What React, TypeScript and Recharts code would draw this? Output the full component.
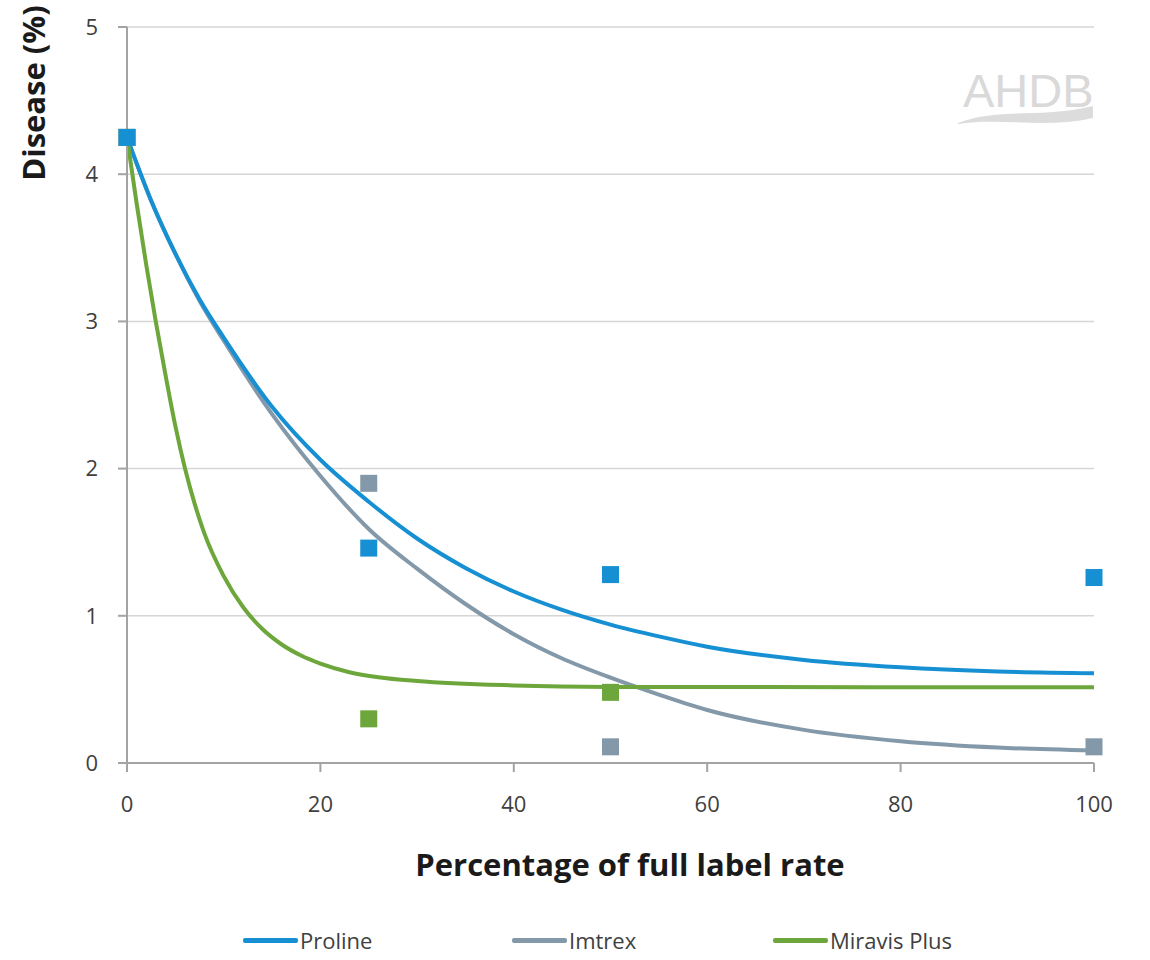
import React from "react"
import {
  ComposedChart,
  Line,
  Scatter,
  XAxis,
  YAxis,
  CartesianGrid,
} from "recharts"

const PROLINE = "#1690d3"
const IMTREX = "#8399a9"
const MIRAVIS = "#6da63a"

const xTicks = [0, 20, 40, 60, 80, 100]
const yTicks = [0, 1, 2, 3, 4, 5]

// fitted curves
const curveRates = [0, 2.5, 5, 7.5, 10, 15, 20, 25, 30, 35, 40, 45, 50, 55, 60, 70, 80, 90, 100]
const prolineCurve = [4.25, 3.82, 3.46, 3.15, 2.89, 2.42, 2.06, 1.775, 1.525, 1.325, 1.165, 1.04, 0.94, 0.86, 0.79, 0.7, 0.65, 0.622, 0.61]
const imtrexCurve = [4.25, 3.82, 3.46, 3.14, 2.87, 2.37, 1.95, 1.59, 1.32, 1.08, 0.875, 0.71, 0.58, 0.465, 0.36, 0.225, 0.148, 0.105, 0.085]

const miravisRates = [0, 1, 2, 3, 4, 5, 6, 7, 8, 10, 12, 14, 16, 18, 20, 23, 26, 30, 40, 50, 100]
const miravisCurve = [4.25, 3.8, 3.38, 2.99, 2.63, 2.29, 2.0, 1.76, 1.56, 1.27, 1.06, 0.91, 0.805, 0.73, 0.675, 0.617, 0.583, 0.557, 0.527, 0.517, 0.514]

// trial results (squares)
const trialRates = [0, 25, 50, 100]
const prolineObserved = [4.25, 1.46, 1.28, 1.26]
const imtrexObserved = [4.25, 1.9, 0.11, 0.11]
const miravisObserved = [4.25, 0.3, 0.48]

const toPoints = (xs: number[], ys: number[]) => ys.map((y, i) => ({ x: xs[i], y }))

const squareShape = (color: string) => (props: any) => (
  <rect x={props.cx - 8.5} y={props.cy - 8.5} width={17} height={17} fill={color} />
)

const legendItems = [
  { name: "Proline", color: PROLINE, left: 243 },
  { name: "Imtrex", color: IMTREX, left: 512 },
  { name: "Miravis Plus", color: MIRAVIS, left: 773 },
]

const font = "'Open Sans', sans-serif"

const YLabel = ({ viewBox }: any) => (
  <text
    x={viewBox.x - 23}
    y={viewBox.y + 66}
    transform={`rotate(-90, ${viewBox.x - 23}, ${viewBox.y + 66})`}
    textAnchor="middle"
    dominantBaseline="middle"
    fontFamily={font}
    fontWeight={700}
    fontSize={31}
    fill="#1a1a1a"
  >
    Disease (%)
  </text>
)

const XLabel = ({ viewBox }: any) => (
  <text
    x={630}
    y={viewBox.y + 105}
    textAnchor="middle"
    dominantBaseline="middle"
    fontFamily={font}
    fontWeight={700}
    fontSize={31}
    fill="#1a1a1a"
  >
    Percentage of full label rate
  </text>
)

export default function App() {
  const tickStyle = { fontFamily: font, fontSize: 22, fill: "#404040" }
  return (
    <div style={{ position: "absolute", left: 0, top: 0, width: 1150, height: 960, background: "#fff" }}>
      <ComposedChart
        width={1150}
        height={960}
        margin={{ top: 27, right: 56, left: 60, bottom: 137 }}
      >
        <CartesianGrid vertical={false} stroke="#d6d6d6" strokeWidth={1.5} />
        <XAxis
          type="number"
          dataKey="x"
          domain={[0, 100]}
          ticks={xTicks}
          height={60}
          tickSize={9}
          tickMargin={24}
          stroke="#a3a3a3"
          strokeWidth={2}
          tick={tickStyle}
          label={<XLabel />}
        />
        <YAxis
          type="number"
          dataKey="y"
          domain={[0, 5]}
          ticks={yTicks}
          width={67}
          tickSize={9}
          tickMargin={20}
          stroke="#a3a3a3"
          strokeWidth={2}
          tick={tickStyle}
          label={<YLabel />}
        />
        <Line data={toPoints(curveRates, imtrexCurve)} dataKey="y" type="monotone" stroke={IMTREX} strokeWidth={4} dot={false} isAnimationActive={false} />
        <Line data={toPoints(curveRates, prolineCurve)} dataKey="y" type="monotone" stroke={PROLINE} strokeWidth={4} dot={false} isAnimationActive={false} />
        <Line data={toPoints(miravisRates, miravisCurve)} dataKey="y" type="monotone" stroke={MIRAVIS} strokeWidth={4} dot={false} isAnimationActive={false} />
        <Scatter data={toPoints(trialRates, miravisObserved)} dataKey="y" shape={squareShape(MIRAVIS)} isAnimationActive={false} />
        <Scatter data={toPoints(trialRates, imtrexObserved)} dataKey="y" shape={squareShape(IMTREX)} isAnimationActive={false} />
        <Scatter data={toPoints(trialRates, prolineObserved)} dataKey="y" shape={squareShape(PROLINE)} isAnimationActive={false} />
      </ComposedChart>

      {/* AHDB watermark */}
      <svg style={{ position: "absolute", left: 940, top: 55 }} width={170} height={80}>
        <text x={23} y={52} fontFamily="'Liberation Sans', Arial, sans-serif" fontSize={47} fill="#d9d9d9">
          AHDB
        </text>
        <path d="M18,68 C60,52 100,64 153,51 L153,63 C105,74 60,62 18,69 Z" fill="#dcdcdc" />
      </svg>

      {legendItems.map((item) => (
        <div
          key={item.name}
          style={{
            position: "absolute",
            left: item.left,
            top: 924,
            height: 32,
            display: "flex",
            alignItems: "center",
            fontFamily: font,
            fontSize: 22,
            color: "#404040",
          }}
        >
          <span style={{ display: "inline-block", width: 55, height: 5, background: item.color, borderRadius: 2, marginRight: 2 }} />
          {item.name}
        </div>
      ))}
    </div>
  )
}
